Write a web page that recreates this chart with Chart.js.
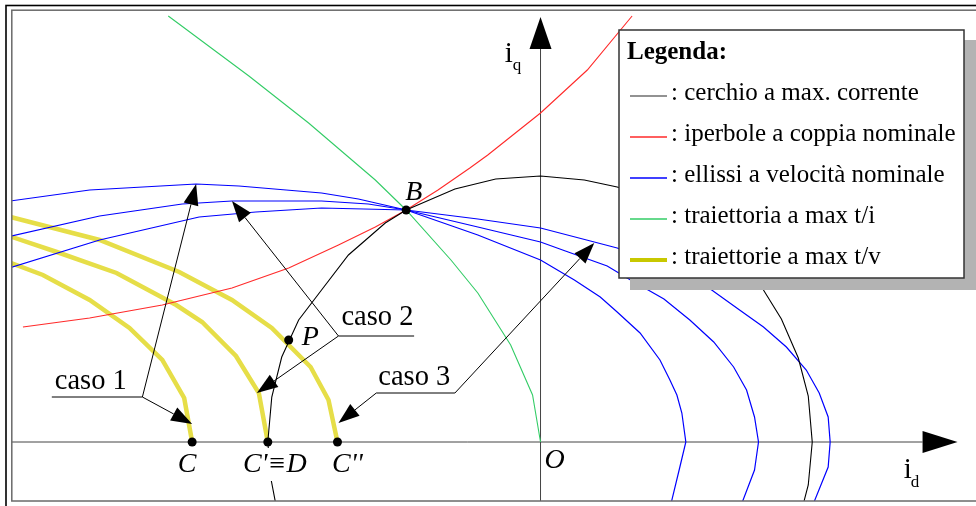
<!DOCTYPE html>
<html>
<head>
<meta charset="utf-8">
<script src="https://cdn.jsdelivr.net/npm/chart.js@4.4.0/dist/chart.umd.min.js"></script>
<style>
  html, body { margin: 0; padding: 0; background: #fff; }
  canvas { display: block; }
</style>
</head>
<body>
<canvas id="diagram" width="976" height="506"></canvas>
<script>
// piano id-iq (stessa scala sui due assi)
const X_MIN = -5.31, X_MAX = 4.33;
const Y_MIN = -0.59, Y_MAX = 4.32;

// cerchio a corrente massima
const circleId = [-2.66, -2.71, -2.74, -2.70, -2.60, -2.43, -2.20, -1.93, -1.56, -1.35, -0.86, -0.45, 0, 0.44, 0.77, 1.37, 1.87, 2.24, 2.42, 2.59, 2.69, 2.73, 2.69, 2.64];
const circleIq = [-0.62, -0.36, 0, 0.45, 0.85, 1.22, 1.52, 1.87, 2.19, 2.32, 2.53, 2.63, 2.66, 2.62, 2.55, 2.35, 1.97, 1.52, 1.23, 0.84, 0.46, 0, -0.43, -0.62];

// iperbole a coppia nominale
const hypId = [-5.20, -4.53, -3.80, -3.10, -2.53, -2.03, -1.66, -1.35, -1.03, -0.71, -0.53, 0, 0.47, 0.92];
const hypIq = [1.15, 1.24, 1.37, 1.54, 1.74, 1.97, 2.15, 2.32, 2.52, 2.74, 2.87, 3.29, 3.72, 4.26];

// traiettoria a max coppia/corrente
const mtpaId = [-3.74, -2.93, -2.33, -1.66, -1.35, -0.90, -0.63, -0.30, -0.08, 0];
const mtpaIq = [4.26, 3.66, 3.19, 2.62, 2.32, 1.82, 1.49, 0.97, 0.47, 0];

// ellissi a velocità nominale (casi 1, 2, 3)
const ell1Id = [-5.40, -4.53, -3.46, -3.03, -2.20, -1.83, -1.35, -0.63, 0, 0.34, 0.60, 0.77, 1.00, 1.20, 1.30, 1.37, 1.42, 1.46, 1.40, 1.31];
const ell1Iq = [2.40, 2.52, 2.58, 2.56, 2.49, 2.43, 2.32, 2.07, 1.82, 1.62, 1.45, 1.30, 1.09, 0.82, 0.62, 0.47, 0.29, 0, -0.25, -0.62];
const ell2Id = [-5.40, -4.43, -3.60, -3.10, -2.20, -1.73, -1.35, -0.63, 0, 0.25, 0.67, 0.87, 1.24, 1.50, 1.74, 1.94, 2.07, 2.15, 2.19, 2.15, 2.02];
const ell2Iq = [2.04, 2.26, 2.38, 2.41, 2.41, 2.38, 2.32, 2.15, 2.00, 1.91, 1.76, 1.64, 1.43, 1.22, 1.00, 0.75, 0.52, 0.25, 0, -0.28, -0.62];
const ell3Id = [-5.40, -4.43, -3.43, -2.86, -2.20, -1.35, -0.63, 0, 0.54, 0.77, 1.27, 1.72, 2.00, 2.24, 2.47, 2.67, 2.80, 2.89, 2.91, 2.89, 2.74];
const ell3Iq = [1.72, 2.02, 2.25, 2.30, 2.34, 2.32, 2.23, 2.14, 2.00, 1.94, 1.74, 1.52, 1.32, 1.15, 0.95, 0.72, 0.49, 0.25, 0, -0.25, -0.62];

// traiettorie a max coppia/tensione, fino a C, C', C''
const mtpv1Id = [-5.40, -5.00, -4.53, -4.13, -3.80, -3.58, -3.50];
const mtpv1Iq = [1.82, 1.67, 1.42, 1.14, 0.82, 0.44, 0];
const mtpv2Id = [-5.40, -4.86, -4.26, -3.66, -3.40, -3.06, -2.83, -2.74];
const mtpv2Iq = [2.08, 1.90, 1.69, 1.37, 1.20, 0.86, 0.49, 0];
const mtpv3Id = [-5.40, -4.43, -3.63, -3.10, -2.70, -2.31, -2.13, -2.04];
const mtpv3Iq = [2.27, 2.02, 1.70, 1.42, 1.14, 0.75, 0.42, 0];

// punti notevoli
const pointNames = ["B", "P", "C", "C'≡D", "C''"];
const pointId = [-1.35, -2.53, -3.50, -2.74, -2.04];
const pointIq = [2.32, 1.02, 0, 0, 0];

// voci della legenda
const legendLabels = [
  ": cerchio a max. corrente",
  ": iperbole a coppia nominale",
  ": ellissi a velocità nominale",
  ": traiettoria a max t/i",
  ": traiettorie a max t/v",
];
const legendColors = ["#6e6e6e", "#ff2a2a", "#0000ff", "#33cc66", "#c8c800"];

const SERIF = '"Liberation Serif", "DejaVu Serif", serif';
const BLUE = "#0000ff";
const YELLOW = "#e6de48";

function pts(xs, ys) {
  return xs.map((x, i) => ({ x: x, y: ys[i] }));
}

function curve(label, xs, ys, color, width, order) {
  return {
    label: label,
    data: pts(xs, ys),
    showLine: true,
    borderColor: color,
    borderWidth: width,
    pointRadius: 0,
    fill: false,
    tension: 0,
    order: order,
  };
}

function arrow(c, x1, y1, x2, y2, len, half) {
  const a = Math.atan2(y2 - y1, x2 - x1);
  const bx = x2 - len * Math.cos(a);
  const by = y2 - len * Math.sin(a);
  c.beginPath();
  c.moveTo(x1, y1);
  c.lineTo(bx, by);
  c.stroke();
  c.beginPath();
  c.moveTo(x2, y2);
  c.lineTo(bx + half * Math.sin(a), by - half * Math.cos(a));
  c.lineTo(bx - half * Math.sin(a), by + half * Math.cos(a));
  c.closePath();
  c.fill();
}

// assi id, iq con le frecce (sotto le curve)
const axesPlugin = {
  id: "axes",
  beforeDatasetsDraw(chart) {
    const c = chart.ctx;
    const xs = chart.scales.x, ys = chart.scales.y;
    const x0 = xs.getPixelForValue(0), y0 = ys.getPixelForValue(0);
    c.save();
    c.strokeStyle = "#444";
    c.fillStyle = "#000";
    c.lineWidth = 1;
    arrow(c, chart.chartArea.left, y0, xs.getPixelForValue(4.19), y0, 35, 11);
    arrow(c, x0, chart.chartArea.bottom, x0, ys.getPixelForValue(4.25), 32, 11);
    c.restore();
  },
};

// annotazioni, etichette, legenda e cornice
const notesPlugin = {
  id: "notes",
  afterDatasetsDraw(chart) {
    const c = chart.ctx;
    const xs = chart.scales.x, ys = chart.scales.y;
    const px = (v) => xs.getPixelForValue(v);
    const py = (v) => ys.getPixelForValue(v);
    c.save();

    // casi 1, 2, 3: testo sottolineato e frecce
    const cases = [
      { text: "caso 1", at: [-4.88, 0.53], bar: [-4.91, -4.00, 0.45],
        arrows: [[-4.00, 0.45, -3.46, 2.58], [-4.00, 0.45, -3.50, 0.18]] },
      { text: "caso 2", at: [-2.00, 1.17], bar: [-2.03, -1.27, 1.06],
        arrows: [[-2.03, 1.06, -3.10, 2.41], [-2.03, 1.06, -2.85, 0.49]] },
      { text: "caso 3", at: [-1.63, 0.57], bar: [-1.65, -0.86, 0.49],
        arrows: [[-0.86, 0.49, 0.54, 1.99], [-1.65, 0.49, -2.03, 0.19]] },
    ];
    c.strokeStyle = "#000";
    c.fillStyle = "#000";
    c.lineWidth = 1;
    c.font = "28.5px " + SERIF;
    c.textBaseline = "alphabetic";
    cases.forEach((k) => {
      c.beginPath();
      c.moveTo(px(k.bar[0]), py(k.bar[2]));
      c.lineTo(px(k.bar[1]), py(k.bar[2]));
      c.stroke();
      k.arrows.forEach((a) => arrow(c, px(a[0]), py(a[1]), px(a[2]), py(a[3]), 21, 7.5));
      c.fillText(k.text, px(k.at[0]), py(k.at[1]));
    });

    // etichette dei punti
    c.font = "italic 28px " + SERIF;
    const labelPos = [[-1.36, 2.42, "left"], [-2.40, 0.97, "left"], [-3.55, -0.30, "center"], [-2.67, -0.30, "center"], [-1.94, -0.30, "center"]];
    pointNames.forEach((n, i) => {
      const p = labelPos[i];
      c.textAlign = p[2];
      if (n === "C'≡D") {
        const w = c.measureText(n).width;
        c.fillStyle = "#fff";
        c.fillRect(px(p[0]) - w / 2 - 2, py(p[1]) - 24, w + 4, 33);
        c.fillStyle = "#000";
      }
      c.fillText(n, px(p[0]), py(p[1]));
    });
    c.textAlign = "left";
    c.fillText("O", px(0.04), py(-0.26));

    // nomi degli assi
    c.font = "29px " + SERIF;
    c.fillText("i", px(-0.36), py(3.80));
    c.fillText("i", px(3.65), py(-0.36));
    c.font = "17px " + SERIF;
    c.fillText("q", px(-0.28), py(3.72));
    c.fillText("d", px(3.72), py(-0.45));

    // legenda con ombra
    const L = 619, T = 30, R = 964, B = 278;
    c.fillStyle = "#b3b3b3";
    c.fillRect(L + 11, T + 10, 976 - L - 11, B - T + 2);
    c.fillStyle = "#fff";
    c.fillRect(L, T, R - L, B - T);
    c.strokeStyle = "#333";
    c.lineWidth = 1.5;
    c.strokeRect(L, T, R - L, B - T);
    c.fillStyle = "#000";
    c.font = "bold 25px " + SERIF;
    c.fillText("Legenda:", L + 8, T + 29);
    c.font = "25px " + SERIF;
    legendLabels.forEach((t, i) => {
      const y = T + 66 + i * 41;
      c.strokeStyle = legendColors[i];
      c.lineWidth = i === 4 ? 4 : 1.3;
      c.beginPath();
      c.moveTo(L + 11, y);
      c.lineTo(L + 48, y);
      c.stroke();
      c.fillText(t, L + 52, y + 4);
    });

    // cornice doppia
    c.strokeStyle = "#000";
    c.lineWidth = 1.6;
    c.strokeRect(6, 5.5, 1100, 1100);
    c.strokeStyle = "#6a6a6a";
    c.lineWidth = 1.5;
    c.strokeRect(11.8, 10.2, 1100, 490.8);
    c.restore();
  },
};

const ctx = document.getElementById("diagram").getContext("2d");

const chart = new Chart(ctx, {
  type: "scatter",
  data: {
    datasets: [
      {
        label: "punti",
        data: pts(pointId, pointIq),
        pointRadius: 4.5,
        pointBackgroundColor: "#000",
        pointBorderWidth: 0,
        showLine: false,
        order: 0,
      },
      curve("cerchio", circleId, circleIq, "#000", 1.1, 1),
      curve("iperbole", hypId, hypIq, "#ff2a2a", 1.1, 2),
      curve("max t/i", mtpaId, mtpaIq, "#33cc66", 1.1, 3),
      curve("ellisse 1", ell1Id, ell1Iq, BLUE, 1.2, 4),
      curve("ellisse 2", ell2Id, ell2Iq, BLUE, 1.2, 5),
      curve("ellisse 3", ell3Id, ell3Iq, BLUE, 1.2, 6),
      curve("max t/v 1", mtpv1Id, mtpv1Iq, YELLOW, 4.5, 7),
      curve("max t/v 2", mtpv2Id, mtpv2Iq, YELLOW, 4.5, 8),
      curve("max t/v 3", mtpv3Id, mtpv3Iq, YELLOW, 4.5, 9),
    ],
  },
  options: {
    responsive: false,
    animation: false,
    layout: { padding: { left: 12, top: 10, right: 0, bottom: 5 } },
    scales: {
      x: { type: "linear", min: X_MIN, max: X_MAX, display: false },
      y: { type: "linear", min: Y_MIN, max: Y_MAX, display: false },
    },
    plugins: {
      legend: { display: false },
      tooltip: { enabled: false },
    },
  },
  plugins: [axesPlugin, notesPlugin],
});
</script>
</body>
</html>
